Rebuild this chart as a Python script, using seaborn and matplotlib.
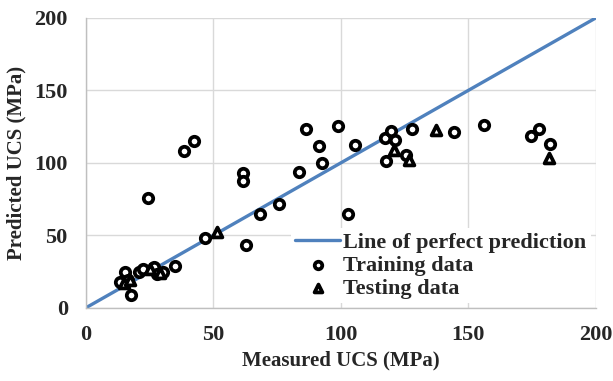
import matplotlib
matplotlib.use("Agg")
import matplotlib.pyplot as plt
import seaborn as sns
import pandas as pd

# Measured vs. predicted UCS (MPa)
train_measured = [13.3, 15.3, 16.5, 17.6, 20.8, 22.5, 26.6, 27.8, 30.3, 34.9,
                  24.4, 38.6, 42.4, 46.8, 61.7, 61.7, 63.0, 68.4, 75.6, 83.5,
                  86.5, 91.4, 92.8, 98.8, 105.5, 102.9, 117.9, 117.3, 119.6, 121.4,
                  125.5, 128.1, 144.4, 156.2, 174.5, 177.6, 182.1]
train_predicted = [17.5, 24.5, 19.0, 9.0, 25.0, 26.5, 28.5, 23.3, 24.5, 28.7,
                   75.7, 108.5, 115.1, 48.5, 93.0, 87.3, 43.5, 64.7, 71.3, 94.0,
                   123.6, 111.7, 99.8, 125.6, 112.0, 64.5, 101.0, 117.5, 122.3, 115.5,
                   105.5, 123.5, 121.4, 125.9, 118.8, 123.1, 112.8]

test_measured = [15.0, 17.5, 25.0, 29.0, 51.5, 120.9, 126.8, 137.4, 181.5]
test_predicted = [17.0, 19.0, 27.0, 24.0, 52.4, 109.2, 101.9, 122.5, 103.4]

perfect_line = [0, 200]

train = pd.DataFrame({"Measured": train_measured, "Predicted": train_predicted})
test = pd.DataFrame({"Measured": test_measured, "Predicted": test_predicted})
line = pd.DataFrame({"Measured": perfect_line, "Predicted": perfect_line})

sns.set_style("white")
plt.rcParams["font.family"] = ["Liberation Serif", "DejaVu Serif"]
plt.rcParams["font.weight"] = "bold"

fig = plt.figure(figsize=(6.13, 3.81), dpi=100)
ax = fig.add_axes([0.140, 0.192, 0.832, 0.761])

sns.lineplot(data=line, x="Measured", y="Predicted", ax=ax, color="#4f81bd",
             linewidth=2.4, label="Line of perfect prediction", zorder=2)
sns.scatterplot(data=train, x="Measured", y="Predicted", ax=ax, marker="o",
                s=46, facecolor="white", edgecolor="black", linewidth=2.7,
                label="Training data", zorder=3)
sns.scatterplot(data=test, x="Measured", y="Predicted", ax=ax, marker="^",
                s=50, facecolor="white", edgecolor="black", linewidth=2.7,
                label="Testing data", zorder=3)

ax.set_xlim(0, 200)
ax.set_ylim(0, 200)
ticks = [0, 50, 100, 150, 200]
ax.set_xticks(ticks)
ax.set_yticks(ticks)
ax.grid(True, color="#d9d9d9", linewidth=1.0)
ax.set_axisbelow(True)
for side in ["top", "right"]:
    ax.spines[side].set_visible(False)
for side in ["left", "bottom"]:
    ax.spines[side].set_color("#bfbfbf")
    ax.spines[side].set_linewidth(1.0)

ax.tick_params(axis="both", length=0, labelsize=16)
ax.tick_params(axis="x", pad=12)
ax.tick_params(axis="y", pad=13)
for lab in ax.get_xticklabels() + ax.get_yticklabels():
    lab.set_fontweight("bold")

ax.set_xlabel("Measured UCS (MPa)", fontsize=15, fontweight="bold", labelpad=4)
ax.set_ylabel("Predicted UCS (MPa)", fontsize=15, fontweight="bold", labelpad=6)

leg = ax.legend(loc="lower right", bbox_to_anchor=(0.99, 0.015), frameon=True,
                framealpha=1.0, edgecolor="none", fancybox=False,
                prop={"size": 16, "weight": "bold"}, handlelength=2.0,
                handletextpad=0.15, borderpad=0.2, labelspacing=0.12,
                borderaxespad=0.0, markerscale=0.8)

fig.savefig("out.png", dpi=100)
